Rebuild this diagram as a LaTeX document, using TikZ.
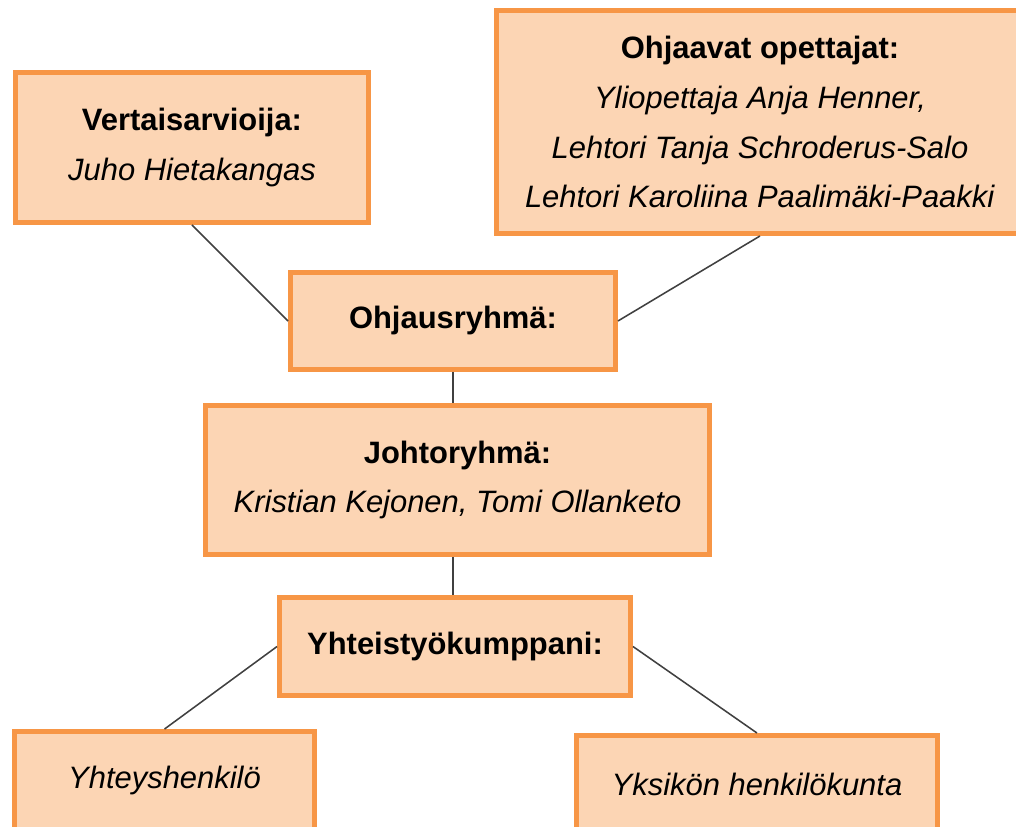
\documentclass[tikz,border=0pt]{standalone}
\usepackage{fontspec}
\setmainfont{Liberation Sans}
\usepackage{xcolor}
\definecolor{OrgFill}{HTML}{FCD5B4}
\definecolor{OrgLine}{HTML}{F79646}
\definecolor{LinkGray}{HTML}{404040}

\begin{document}
\begin{tikzpicture}[
          box/.style={rectangle, draw=OrgLine, fill=OrgFill, line width=3.5pt,
                      inner sep=0pt, align=center,
                      font=\fontsize{22}{35.5}\selectfont},
          link/.style={draw=LinkGray, line width=1.1pt}
        ]
        \useasboundingbox (0,0) rectangle (25.4,-20.675);

        \node[box, minimum width=8.825cm, minimum height=3.75cm] (vert) at (4.8, -3.6875)
              {\textbf{Vertaisarvioija:}\\\textit{Juho Hietakangas}};
        \node[box, minimum width=13.175cm, minimum height=5.575cm] (ohjaavat) at (19.0, -3.05)
              {\textbf{Ohjaavat opettajat:}\\\textit{Yliopettaja Anja Henner,}\\
               \textit{Lehtori Tanja Schroderus-Salo}\\\textit{Lehtori Karoliina Paalimäki-Paakki}};
        \node[box, minimum width=8.125cm, minimum height=2.425cm] (ohjaus) at (11.325, -8.025)
              {\textbf{Ohjausryhmä:}};
        \node[box, minimum width=12.6cm, minimum height=3.725cm] (johto) at (11.4375, -12.0)
              {\textbf{Johtoryhmä:}\\\textit{Kristian Kejonen, Tomi Ollanketo}};
        \node[box, minimum width=8.775cm, minimum height=2.45cm] (yhteis) at (11.375, -16.1625)
              {\textbf{Yhteistyökumppani:}};
        \node[box, minimum width=7.5cm, minimum height=2.45cm] (yhteys) at (4.1125, -19.5125)
              {\textit{Yhteyshenkilö}};
        \node[box, minimum width=9.025cm, minimum height=2.45cm] (yksikko) at (18.925, -19.6125)
              {\textit{Yksikön henkilökunta}};

        \draw[link] (vert.south)     -- (ohjaus.west);
        \draw[link] (ohjaavat.south) -- (ohjaus.east);
        \draw[link] (ohjaus.south)   -- (ohjaus.south |- johto.north);
        \draw[link] (johto.south -| ohjaus.south) -- (yhteis.north -| ohjaus.south);
        \draw[link] (yhteis.west)    -- (yhteys.north);
        \draw[link] (yhteis.east)    -- (yksikko.north);
      \end{tikzpicture}
\end{document}
